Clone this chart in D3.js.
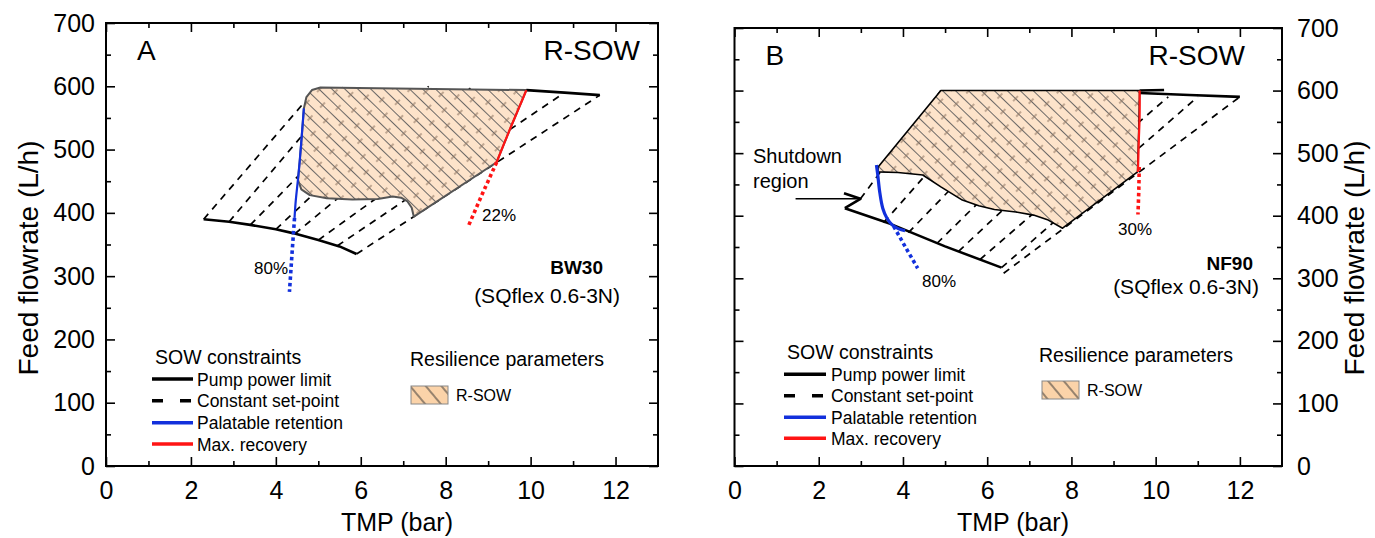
<!DOCTYPE html>
<html>
<head>
<meta charset="utf-8">
<script src="https://cdn.jsdelivr.net/npm/d3@7"></script>
<style>
  body { margin: 0; background: #fff; }
  svg { display: block; font-family: "Liberation Sans", Arial, sans-serif; }
</style>
</head>
<body>
<svg id="chart" width="1375" height="538"></svg>
<script>
// ---- axis ticks ----
const tmpMajor = [0, 2, 4, 6, 8, 10, 12];
const tmpMinor = [1, 3, 5, 7, 9, 11];
const flowMajor = [0, 100, 200, 300, 400, 500, 600, 700];
const flowMinor = [50, 150, 250, 350, 450, 550, 650];

// ---- panel A : BW30 ----
// pump power limit (TMP bar, feed L/h)
const pumpLowA = [[2.3, 390], [2.9, 386], [3.4, 381], [4.0, 374], [4.4, 368], [5.0, 357], [5.5, 347], [5.9, 335]];
const pumpHighA = [[9.9, 594], [10.8, 590], [11.63, 586]];
// constant set-point lines: [tmp0, flow0, tmp1, flow1]
const setPointA = [
  [2.3, 390, 4.7, 577], [2.9, 386, 5.6, 600], [3.4, 381, 6.6, 600], [4.0, 374, 7.6, 600],
  [4.45, 367, 8.6, 598], [5.0, 357, 9.9, 594], [5.45, 348, 10.8, 590], [5.9, 335, 11.63, 586]
];
const retentionA = [[4.66, 565], [4.62, 530], [4.56, 480], [4.52, 452], [4.47, 420], [4.44, 392]];
const retentionExtA = [[4.44, 392], [4.38, 335], [4.32, 275]];
const recoveryA = [[9.2, 480], [9.5, 530], [9.72, 565], [9.9, 594]];
const recoveryExtA = [[9.2, 480], [8.85, 428], [8.52, 377]];
const rsowA = [
  [4.52, 452], [4.6, 437], [4.8, 428], [5.2, 423], [5.8, 421], [6.4, 422], [6.75, 426], [6.95, 424],
  [7.1, 418], [7.2, 408], [7.25, 394], [9.2, 480], [9.5, 530], [9.72, 565], [9.9, 594],
  [5.05, 598], [4.85, 594], [4.72, 583], [4.66, 565], [4.62, 530], [4.56, 480]
];

// ---- panel B : NF90 ----
const pumpLowB = [[2.62, 412], [3.7, 387], [5.0, 351], [6.34, 317]];
const pumpHighB = [[9.62, 596], [10.8, 593], [12.0, 590]];
const topStubB = [[9.62, 600], [10.2, 601]];
const shutdownB = [[2.6, 436], [2.99, 427], [2.62, 412]];
const setPointB = [
  [2.99, 427, 4.9, 600], [3.54, 389, 6.3, 600], [4.13, 373, 7.4, 600], [4.81, 356, 8.5, 600],
  [5.32, 343, 9.4, 600], [5.83, 330, 10.3, 590], [6.34, 317, 11.0, 590], [6.39, 308, 12.0, 590]
];
const retentionB = [[3.37, 481], [3.4, 466], [3.45, 437], [3.52, 412], [3.62, 396], [3.75, 385], [3.9, 379], [4.05, 376]];
const retentionExtB = [[3.78, 383], [4.1, 345], [4.35, 316]];
const recoveryB = [[9.62, 600], [9.62, 560], [9.6, 520], [9.58, 470]];
const recoveryExtB = [[9.61, 478], [9.6, 440], [9.58, 402]];
const rsowB = [
  [3.41, 478], [4.9, 600], [9.62, 600], [9.6, 540], [9.57, 470], [7.79, 380], [7.45, 393],
  [7.1, 401], [6.68, 406], [6.17, 410], [5.8, 416], [5.41, 425], [4.9, 446], [4.47, 465],
  [3.88, 469], [3.41, 470]
];

const legendLabels = ["Pump power limit", "Constant set-point", "Palatable retention", "Max. recovery"];

const svg = d3.select("#chart");
const defs = svg.append("defs");

// hatch fill for the R-SOW area
const hatch = defs.append("pattern").attr("id", "hatch")
  .attr("patternUnits", "userSpaceOnUse").attr("width", 26).attr("height", 18)
  .attr("patternTransform", "rotate(44)");
hatch.append("rect").attr("width", 26).attr("height", 18).attr("fill", "#fde3ca");
[4.5, 13.5].forEach(v => hatch.append("line").attr("x1", 0).attr("x2", 26).attr("y1", v).attr("y2", v)
  .attr("stroke", "#5a5a5a").attr("stroke-width", 0.9));
[[6, 4.5], [19, 13.5]].forEach(([cx, cy]) => hatch.append("line").attr("x1", cx).attr("x2", cx)
  .attr("y1", cy - 3.6).attr("y2", cy + 3.6).attr("stroke", "#8f7663").attr("stroke-width", 1.1));

// legend swatch fill
const swatch = defs.append("pattern").attr("id", "swatchHatch")
  .attr("patternUnits", "userSpaceOnUse").attr("width", 12).attr("height", 12)
  .attr("patternTransform", "rotate(50)");
swatch.append("rect").attr("width", 12).attr("height", 12).attr("fill", "#fbd3a9");
swatch.append("line").attr("x1", 0).attr("x2", 12).attr("y1", 6).attr("y2", 6)
  .attr("stroke", "#333").attr("stroke-width", 1);

const BLUE = "#1230dc", RED = "#ff1414";

function drawPanel(o) {
  const g = svg.append("g");
  const x = d3.scaleLinear().domain([0, 13]).range([o.left, o.right]);
  const y = d3.scaleLinear().domain([0, 700]).range([o.bottom, o.top]);
  const line = d3.line().x(d => x(d[0])).y(d => y(d[1]));

  // constant set-point lines
  g.append("g").selectAll("line").data(o.setPoints).join("line")
    .attr("x1", d => x(d[0])).attr("y1", d => y(d[1]))
    .attr("x2", d => x(d[2])).attr("y2", d => y(d[3]))
    .attr("stroke", "#000").attr("stroke-width", 1.7).attr("stroke-dasharray", "7,6");

  // R-SOW area
  g.append("path").datum(o.rsow)
    .attr("d", d3.line().x(d => x(d[0])).y(d => y(d[1])).curve(d3.curveLinearClosed))
    .attr("fill", "url(#hatch)").attr("stroke", o.rsowStroke).attr("stroke-width", o.rsowStrokeW)
    .attr("stroke-linejoin", "round");

  // pump power limits
  [o.pumpLow, o.pumpHigh].concat(o.extraBlack || []).forEach(p =>
    g.append("path").datum(p).attr("d", line).attr("fill", "none")
      .attr("stroke", "#000").attr("stroke-width", 2.6).attr("stroke-linejoin", "round"));

  // palatable retention and max recovery
  g.append("path").datum(o.retention).attr("d", line.curve(d3.curveCatmullRom)).attr("fill", "none")
    .attr("stroke", BLUE).attr("stroke-width", o.blueW);
  g.append("path").datum(o.retentionExt).attr("d", line.curve(d3.curveLinear)).attr("fill", "none")
    .attr("stroke", BLUE).attr("stroke-width", 3.6).attr("stroke-dasharray", "3.5,3");
  g.append("path").datum(o.recovery).attr("d", line.curve(d3.curveCatmullRom)).attr("fill", "none")
    .attr("stroke", RED).attr("stroke-width", 2.2);
  g.append("path").datum(o.recoveryExt).attr("d", line.curve(d3.curveLinear)).attr("fill", "none")
    .attr("stroke", RED).attr("stroke-width", 3.6).attr("stroke-dasharray", "3.5,3");
  line.curve(d3.curveLinear);

  // frame
  g.append("rect").attr("x", o.left).attr("y", o.top)
    .attr("width", o.right - o.left).attr("height", o.bottom - o.top)
    .attr("fill", "none").attr("stroke", "#000").attr("stroke-width", 2);

  const styleAxis = (sel, fs) => {
    sel.select(".domain").remove();
    sel.selectAll(".tick line").attr("stroke", "#000").attr("stroke-width", 1.6);
    sel.selectAll("text").attr("font-size", fs).attr("fill", "#000")
      .attr("font-family", "'Liberation Sans', Arial, sans-serif");
  };
  const addAxis = (gen, tr, fs) => g.append("g").attr("transform", tr).call(gen).call(s => styleAxis(s, fs));

  // bottom and top
  addAxis(d3.axisBottom(x).tickValues(tmpMajor).tickSizeInner(-9).tickSizeOuter(0).tickPadding(15), `translate(0,${o.bottom})`, 25);
  addAxis(d3.axisBottom(x).tickValues(tmpMinor).tickSizeInner(-5).tickSizeOuter(0).tickFormat(""), `translate(0,${o.bottom})`, 0);
  addAxis(d3.axisTop(x).tickValues(tmpMajor).tickSizeInner(-9).tickSizeOuter(0).tickFormat(""), `translate(0,${o.top})`, 0);
  addAxis(d3.axisTop(x).tickValues(tmpMinor).tickSizeInner(-5).tickSizeOuter(0).tickFormat(""), `translate(0,${o.top})`, 0);
  // left and right
  const leftMaj = d3.axisLeft(y).tickValues(flowMajor).tickSizeInner(-9).tickSizeOuter(0).tickPadding(11);
  const rightMaj = d3.axisRight(y).tickValues(flowMajor).tickSizeInner(-9).tickSizeOuter(0).tickPadding(15);
  if (o.labelsLeft) rightMaj.tickFormat(""); else leftMaj.tickFormat("");
  addAxis(leftMaj, `translate(${o.left},0)`, 25);
  addAxis(d3.axisLeft(y).tickValues(flowMinor).tickSizeInner(-5).tickSizeOuter(0).tickFormat(""), `translate(${o.left},0)`, 0);
  addAxis(rightMaj, `translate(${o.right},0)`, 25);
  addAxis(d3.axisRight(y).tickValues(flowMinor).tickSizeInner(-5).tickSizeOuter(0).tickFormat(""), `translate(${o.right},0)`, 0);

  // axis titles
  g.append("text").attr("x", o.xTitleX).attr("y", 531).attr("text-anchor", "middle")
    .attr("font-size", 25).text("TMP (bar)");
  g.append("text").attr("transform", `translate(${o.yTitleX},258) rotate(-90)`).attr("text-anchor", "middle")
    .attr("font-size", 28).text("Feed flowrate (L/h)");

  // panel labels
  g.append("text").attr("x", o.left + 31).attr("y", o.top + 37).attr("font-size", 28).text(o.letter);
  g.append("text").attr("x", o.right - o.rsowTitleDx).attr("y", o.top + 37).attr("text-anchor", "end")
    .attr("font-size", 28).text("R-SOW");
  g.append("text").attr("x", o.memX).attr("y", o.memY).attr("text-anchor", "end")
    .attr("font-size", 19).attr("font-weight", "bold").text(o.membrane);
  g.append("text").attr("x", o.pumpX).attr("y", o.pumpY).attr("text-anchor", "end")
    .attr("font-size", 21).text("(SQflex 0.6-3N)");
  g.append("text").attr("x", o.retLab[0]).attr("y", o.retLab[1]).attr("font-size", 17).text(o.retText);
  g.append("text").attr("x", o.recLab[0]).attr("y", o.recLab[1]).attr("font-size", 17).text(o.recText);

  // legend: SOW constraints
  const L = o.legend;
  g.append("text").attr("x", L.hx).attr("y", L.hy).attr("font-size", 19.5).text("SOW constraints");
  const styles = [
    { c: "#000", w: 3.6, d: null },
    { c: "#000", w: 3.6, d: "11,17" },
    { c: BLUE, w: 3.6, d: null },
    { c: RED, w: 3.6, d: null }
  ];
  legendLabels.forEach((t, i) => {
    const yy = L.rows[i];
    g.append("line").attr("x1", L.lx0).attr("x2", L.lx1).attr("y1", yy).attr("y2", yy)
      .attr("stroke", styles[i].c).attr("stroke-width", styles[i].w)
      .attr("stroke-dasharray", styles[i].d);
    g.append("text").attr("x", L.tx).attr("y", yy + 6.5).attr("font-size", 17.5).text(t);
  });
  // legend: resilience parameters
  g.append("text").attr("x", L.rx).attr("y", L.ry).attr("font-size", 19.5).text("Resilience parameters");
  g.append("rect").attr("x", L.sx).attr("y", L.sy).attr("width", 37).attr("height", 18)
    .attr("fill", "url(#swatchHatch)").attr("stroke", "#888").attr("stroke-width", 1);
  g.append("text").attr("x", L.sx + 45).attr("y", L.sy + 15).attr("font-size", 16).text("R-SOW");

  return { g, x, y, line };
}

// Panel A
drawPanel({
  left: 106, right: 658, top: 23, bottom: 466, letter: "A", rsowTitleDx: 18,
  labelsLeft: true, xTitleX: 397, yTitleX: 38,
  setPoints: setPointA, rsow: rsowA, rsowStroke: "#555", rsowStrokeW: 2,
  pumpLow: pumpLowA, pumpHigh: pumpHighA, retention: retentionA, retentionExt: retentionExtA,
  recovery: recoveryA, recoveryExt: recoveryExtA, blueW: 2.2,
  membrane: "BW30", memX: 603, memY: 274, pumpX: 620, pumpY: 303,
  retText: "80%", retLab: [254, 274], recText: "22%", recLab: [482, 221],
  legend: { hx: 155, hy: 363.5, rows: [379, 400.7, 422.7, 444], lx0: 152, lx1: 193, tx: 197,
            rx: 410, ry: 366, sx: 411, sy: 386 }
});

// Panel B
const pB = drawPanel({
  left: 734.5, right: 1282, top: 28, bottom: 466, letter: "B", rsowTitleDx: 37,
  labelsLeft: false, xTitleX: 1013, yTitleX: 1364,
  setPoints: setPointB, rsow: rsowB, rsowStroke: "#000", rsowStrokeW: 1.6,
  pumpLow: pumpLowB, pumpHigh: pumpHighB, extraBlack: [topStubB, shutdownB],
  retention: retentionB, retentionExt: retentionExtB,
  recovery: recoveryB, recoveryExt: recoveryExtB, blueW: 3.2,
  membrane: "NF90", memX: 1253, memY: 270, pumpX: 1259, pumpY: 294,
  retText: "80%", retLab: [922, 287], recText: "30%", recLab: [1118, 235],
  legend: { hx: 787, hy: 358.5, rows: [374.3, 395.7, 417.3, 438.3], lx0: 784, lx1: 826, tx: 831,
            rx: 1039, ry: 362, sx: 1042, sy: 381 }
});

// shutdown region callout
pB.g.append("text").attr("x", 753).attr("y", 163).attr("font-size", 20).text("Shutdown");
pB.g.append("text").attr("x", 753).attr("y", 188).attr("font-size", 20).text("region");
pB.g.append("line").attr("x1", pB.x(1.45)).attr("x2", pB.x(2.92)).attr("y1", pB.y(427)).attr("y2", pB.y(427))
  .attr("stroke", "#000").attr("stroke-width", 1.6);
</script>
</body>
</html>
